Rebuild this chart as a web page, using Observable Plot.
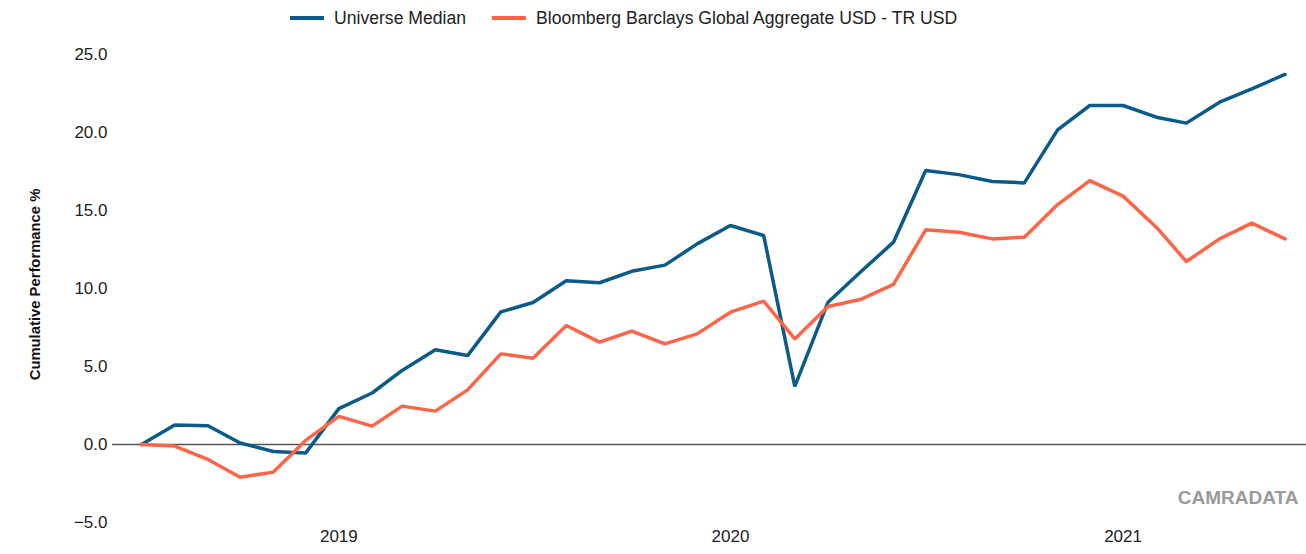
<!DOCTYPE html>
<html>
<head>
<meta charset="utf-8">
<script src="https://cdn.jsdelivr.net/npm/d3@7"></script>
<script src="https://cdn.jsdelivr.net/npm/@observablehq/plot@0.6"></script>
<style>
  html, body { margin: 0; padding: 0; background: #fff; }
  #wrap { position: relative; width: 1306px; height: 554px; font-family: "Liberation Sans", Arial, sans-serif; }
  #legend { position: relative; height: 36px; width: 1306px; }
  .sw { position: absolute; top: 16px; width: 34px; height: 4px; }
  .lt { position: absolute; top: 6px; font-size: 17.6px; color: #222; line-height: 24px; white-space: nowrap; }
  svg { display: block; }
</style>
</head>
<body>
<div id="wrap">
  <div id="legend"></div>
  <div id="chart"></div>
</div>
<script>
const months = ["2018-07","2018-08","2018-09","2018-10","2018-11","2018-12",
  "2019-01","2019-02","2019-03","2019-04","2019-05","2019-06","2019-07","2019-08","2019-09","2019-10","2019-11","2019-12",
  "2020-01","2020-02","2020-03","2020-04","2020-05","2020-06","2020-07","2020-08","2020-09","2020-10","2020-11","2020-12",
  "2021-01","2021-02","2021-03","2021-04","2021-05","2021-06"];
const universeMedian = [0.0, 1.25, 1.2, 0.1, -0.45, -0.55,
  2.3, 3.3, 4.75, 6.07, 5.7, 8.5, 9.1, 10.5, 10.37, 11.1, 11.5, 12.86,
  14.04, 13.4, 3.72, 9.12, 11.04, 12.97, 17.56, 17.3, 16.86, 16.77, 20.17, 21.73,
  21.73, 20.98, 20.6, 21.94, 22.8, 23.72];
const bloombergAgg = [0.0, -0.1, -0.96, -2.1, -1.77, 0.26,
  1.8, 1.18, 2.46, 2.14, 3.5, 5.81, 5.53, 7.63, 6.56, 7.27, 6.45, 7.09,
  8.48, 9.19, 6.77, 8.85, 9.29, 10.26, 13.76, 13.61, 13.18, 13.29, 15.38, 16.92,
  15.92, 13.93, 11.73, 13.18, 14.19, 13.18];
const seriesNames = ["Universe Median", "Bloomberg Barclays Global Aggregate USD - TR USD"];
const seriesColors = ["#0b5a88", "#fd6548"];
const yTicks = [-5, 0, 5, 10, 15, 20, 25];
const yearTicks = ["2019-01-01", "2020-01-01", "2021-01-01"];

const parse = d3.utcParse("%Y-%m");
const rows = [];
months.forEach((m, i) => {
  rows.push({date: parse(m), value: universeMedian[i], series: seriesNames[0]});
  rows.push({date: parse(m), value: bloombergAgg[i], series: seriesNames[1]});
});

// Legend
const legend = document.getElementById("legend");
const legendPos = [[290, 334], [492, 536]];
seriesNames.forEach((n, i) => {
  const sw = document.createElement("div");
  sw.className = "sw"; sw.style.left = legendPos[i][0] + "px"; sw.style.background = seriesColors[i];
  legend.appendChild(sw);
  const t = document.createElement("div");
  t.className = "lt"; t.style.left = legendPos[i][1] + "px"; t.textContent = n;
  legend.appendChild(t);
});

const chart = Plot.plot({
  width: 1306,
  height: 518,
  marginLeft: 112,
  marginRight: 0,
  marginTop: 18,
  marginBottom: 32,
  style: {fontFamily: '"Liberation Sans", Arial, sans-serif', fontSize: "17px", color: "#222", background: "#fff"},
  x: {type: "utc", domain: [new Date("2018-06-04"), new Date("2021-06-21")]},
  y: {domain: [-5, 25]},
  color: {domain: seriesNames, range: seriesColors},
  marks: [
    Plot.axisY({ticks: yTicks, tickSize: 0, tickPadding: 5, tickFormat: d3.format(".1f"), label: null, fontSize: 17}),
    Plot.axisX({ticks: yearTicks.map(d => new Date(d)), tickSize: 0, tickPadding: 7, tickFormat: d3.utcFormat("%Y"), label: null, fontSize: 17}),
    Plot.ruleY([0], {stroke: "#555", strokeWidth: 1.5}),
    Plot.line(rows, {x: "date", y: "value", z: "series", stroke: "series", strokeWidth: 3.5, strokeLinejoin: "miter", curve: "linear"}),
    Plot.text(["Cumulative Performance %"], {frameAnchor: "left", dx: -77, dy: -4, rotate: -90, textAnchor: "middle", fontWeight: "bold", fontSize: 14.8, fill: "#111"}),
    Plot.text(["CAMRADATA"], {frameAnchor: "bottom-right", dx: -8, dy: -19, textAnchor: "end", fontWeight: "bold", fontSize: 19, fill: "#9a9a9a"})
  ]
});
document.getElementById("chart").appendChild(chart);
</script>
</body>
</html>
